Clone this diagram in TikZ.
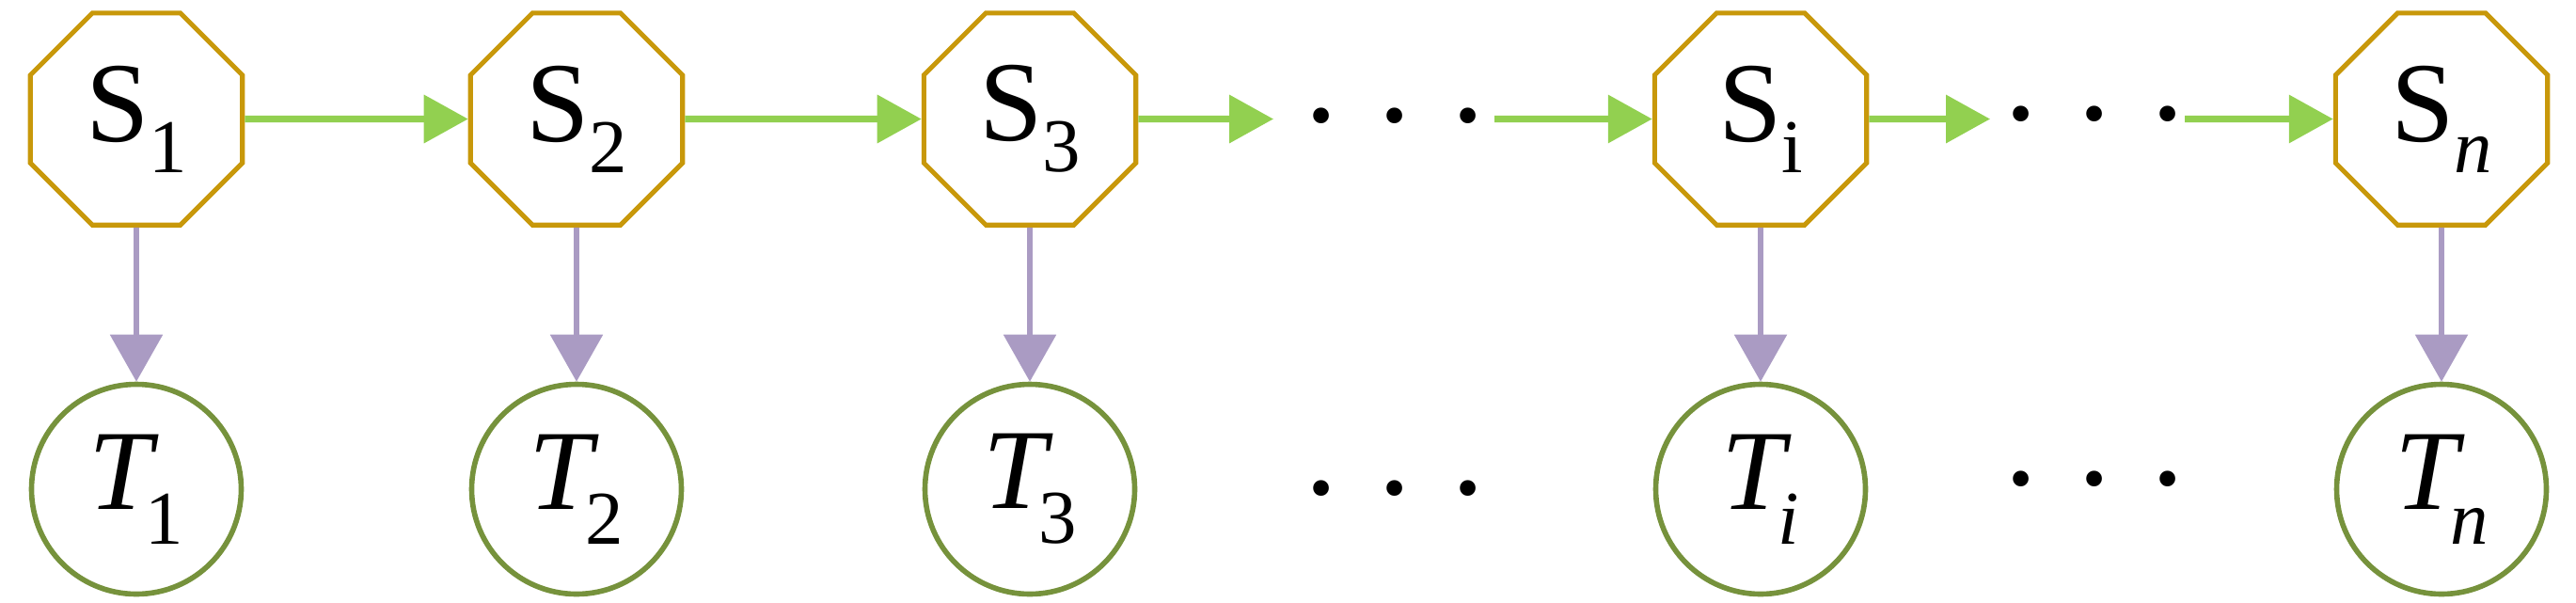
\documentclass[tikz,border=0pt]{standalone}
\usepackage{fontspec}
\setmainfont{Liberation Serif}
\usetikzlibrary{shapes.geometric,arrows.meta}
\definecolor{sgold}{RGB}{200,152,10}
\definecolor{lgreen}{RGB}{146,208,80}
\definecolor{lpurple}{RGB}{170,155,195}
\definecolor{tolive}{RGB}{118,146,60}
\newcommand{\lowsub}[2][0.33cm]{\raisebox{-#1}{\fontsize{23}{26}\selectfont #2}}
\newcommand{\threedots}{.\hspace{0.429cm}.\hspace{0.429cm}.}
\begin{document}
\begin{tikzpicture}[
  snode/.style={regular polygon, regular polygon sides=8, minimum size=2.44cm, draw=sgold, line width=1.45pt, inner sep=0pt, fill=white, font=\fontsize{34.5}{40}\selectfont},
  tnode/.style={circle, minimum size=2.23cm, draw=tolive, line width=1.6pt, inner sep=0pt, font=\fontsize{34.5}{40}\selectfont},
  dotsnode/.style={inner sep=0pt, anchor=base, font=\fontsize{40}{46}\selectfont},
  garrow/.style={draw=lgreen, line width=2pt, -{Triangle[length=0.47cm,width=0.5cm]}},
  parrow/.style={draw=lpurple, line width=1.6pt, -{Triangle[length=0.5cm,width=0.55cm]}}
]
\useasboundingbox (0,0) rectangle (27.39,-6.40);
% top row
\node[snode] (S1) at (1.45,-1.265) {S\lowsub{1}};
\node[snode] (S2) at (6.13,-1.265) {S\lowsub{2}};
\node[snode] (S3) at (10.95,-1.265) {S\lowsub{3}};
\node[dotsnode] (D1) at (14.83,-1.297) {\threedots};
\node[snode] (Si) at (18.72,-1.265) {S\lowsub{i}};
\node[dotsnode] (D2) at (22.27,-1.277) {\threedots};
\node[snode] (Sn) at (25.96,-1.265) {S\lowsub{\textit{n}}};
% bottom row
\node[tnode] (T1) at (1.45,-5.20) {\textit{T}\kern-0.15cm\lowsub[0.37cm]{1}};
\node[tnode] (T2) at (6.13,-5.20) {\textit{T}\kern-0.15cm\lowsub[0.37cm]{2}};
\node[tnode] (T3) at (10.95,-5.20) {\textit{T}\kern-0.15cm\lowsub[0.37cm]{3}};
\node[dotsnode] (D3) at (14.83,-5.257) {\threedots};
\node[tnode] (Ti) at (18.72,-5.20) {\textit{T}\kern-0.15cm\lowsub[0.37cm]{\textit{i}}};
\node[dotsnode] (D4) at (22.27,-5.157) {\threedots};
\node[tnode] (Tn) at (25.96,-5.20) {\textit{T}\kern-0.15cm\lowsub[0.37cm]{\textit{n}}};
% free ends of the arrows beside the dots
\coordinate (a1) at (13.54,-1.265);
\coordinate (b1) at (15.89,-1.265);
\coordinate (a2) at (21.16,-1.265);
\coordinate (b2) at (23.23,-1.265);
% green arrows
\draw[garrow] (S1) -- (S2);
\draw[garrow] (S2) -- (S3);
\draw[garrow] (S3) -- (a1);
\draw[garrow] (b1) -- (Si);
\draw[garrow] (Si) -- (a2);
\draw[garrow] (b2) -- (Sn);
% purple arrows
\draw[parrow] (S1) -- (T1);
\draw[parrow] (S2) -- (T2);
\draw[parrow] (S3) -- (T3);
\draw[parrow] (Si) -- (Ti);
\draw[parrow] (Sn) -- (Tn);
\end{tikzpicture}
\end{document}
